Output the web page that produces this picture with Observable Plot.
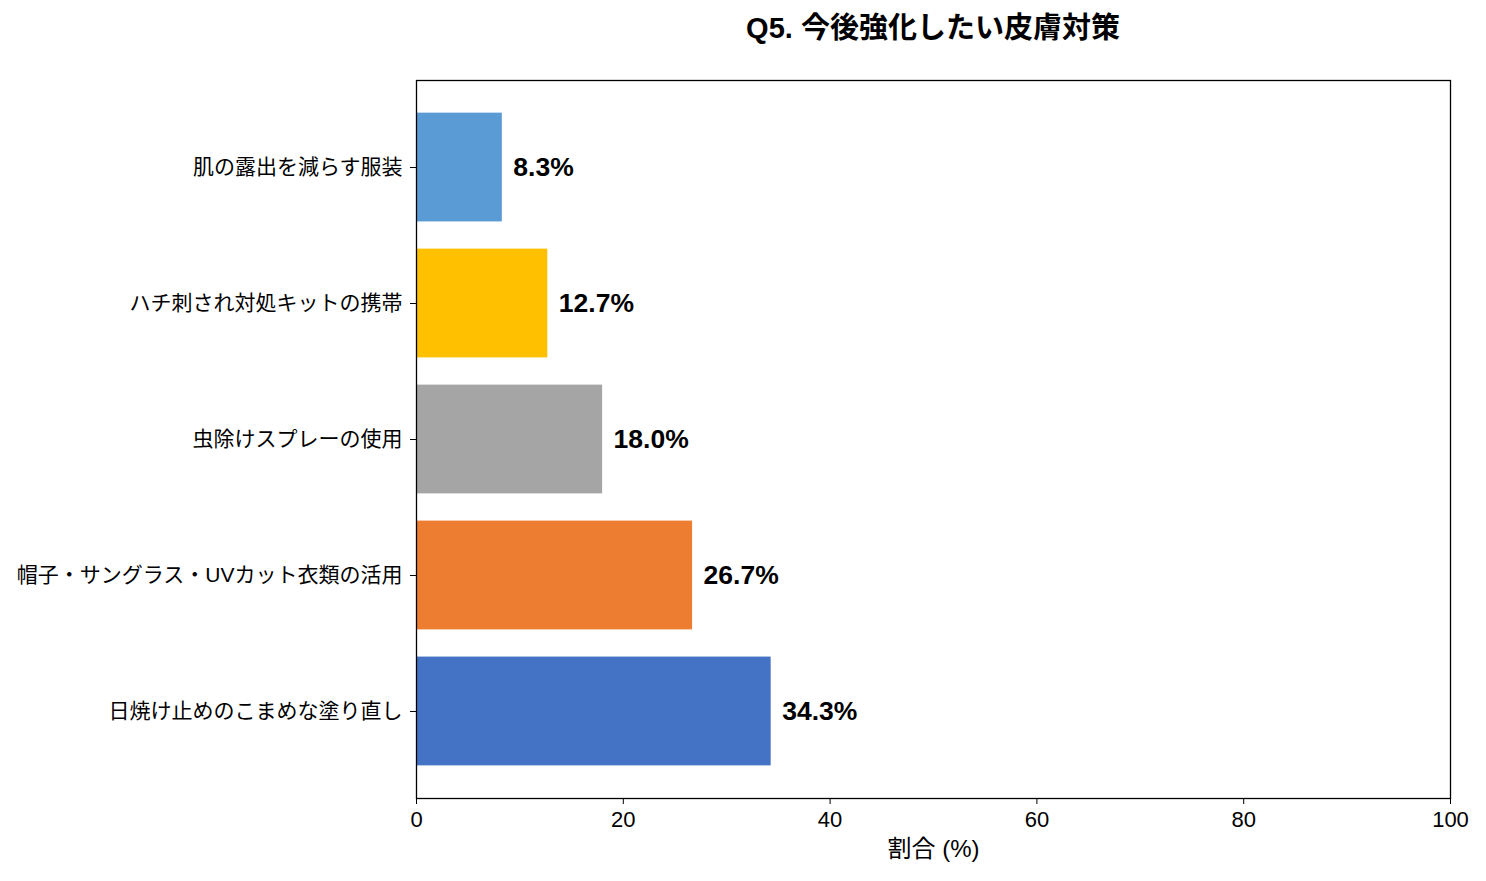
<!DOCTYPE html>
<html>
<head>
<meta charset="utf-8">
<script src="https://cdn.jsdelivr.net/npm/d3@7"></script>
<script src="https://cdn.jsdelivr.net/npm/@observablehq/plot@0.6"></script>
<style>
  body { margin: 0; background: #fff; font-family: "Liberation Sans", "Noto Sans CJK JP", sans-serif; }
  #title { height: 56px; line-height: 56px; text-align: center; padding-left: 380px; width: 1106px;
           font-size: 29px; font-weight: bold; color: #000; box-sizing: content-box; }
</style>
</head>
<body>
<div id="title">Q5. 今後強化したい皮膚対策</div>
<div id="chart"></div>
<script>
const categories = ["肌の露出を減らす服装", "ハチ刺され対処キットの携帯", "虫除けスプレーの使用", "帽子・サングラス・UVカット衣類の活用", "日焼け止めのこまめな塗り直し"];
const values = [8.3, 12.7, 18.0, 26.7, 34.3];
const colors = ["#5B9BD5", "#FFC000", "#A5A5A5", "#ED7D31", "#4472C4"];
const xTicks = [0, 20, 40, 60, 80, 100];

const data = categories.map((c, i) => ({category: c, value: values[i], color: colors[i]}));

const chart = Plot.plot({
  width: 1486,
  height: 825,
  marginTop: 24,
  marginBottom: 83,
  marginLeft: 416,
  marginRight: 36,
  style: {fontFamily: "'Liberation Sans', 'Noto Sans CJK JP', sans-serif", fontSize: "20px", color: "#000", background: "#fff"},
  x: {domain: [0, 100], ticks: xTicks, label: null},
  y: {domain: categories, paddingInner: 0.2, paddingOuter: 0.24, round: false, label: null},
  marks: [
    Plot.barX(data, {y: "category", x: "value", fill: "color"}),
    Plot.text(data, {y: "category", x: "value", text: d => d.value.toFixed(1) + "%", textAnchor: "start", dx: 11, fontSize: 26.5, fontWeight: "bold", fill: "#000"}),
    Plot.frame({stroke: "#000", strokeWidth: 1.3}),
    Plot.axisX({ticks: xTicks, tickSize: 6, tickPadding: 7, fontSize: 22, label: null, stroke: "#000"}),
    Plot.axisY({tickSize: 6, tickPadding: 8, fontSize: 21, label: null, stroke: "#000"}),
    Plot.text(["割合 (%)"], {frameAnchor: "bottom", dy: 58, fontSize: 24, fill: "#000"})
  ]
});
document.getElementById("chart").appendChild(chart);
</script>
</body>
</html>
